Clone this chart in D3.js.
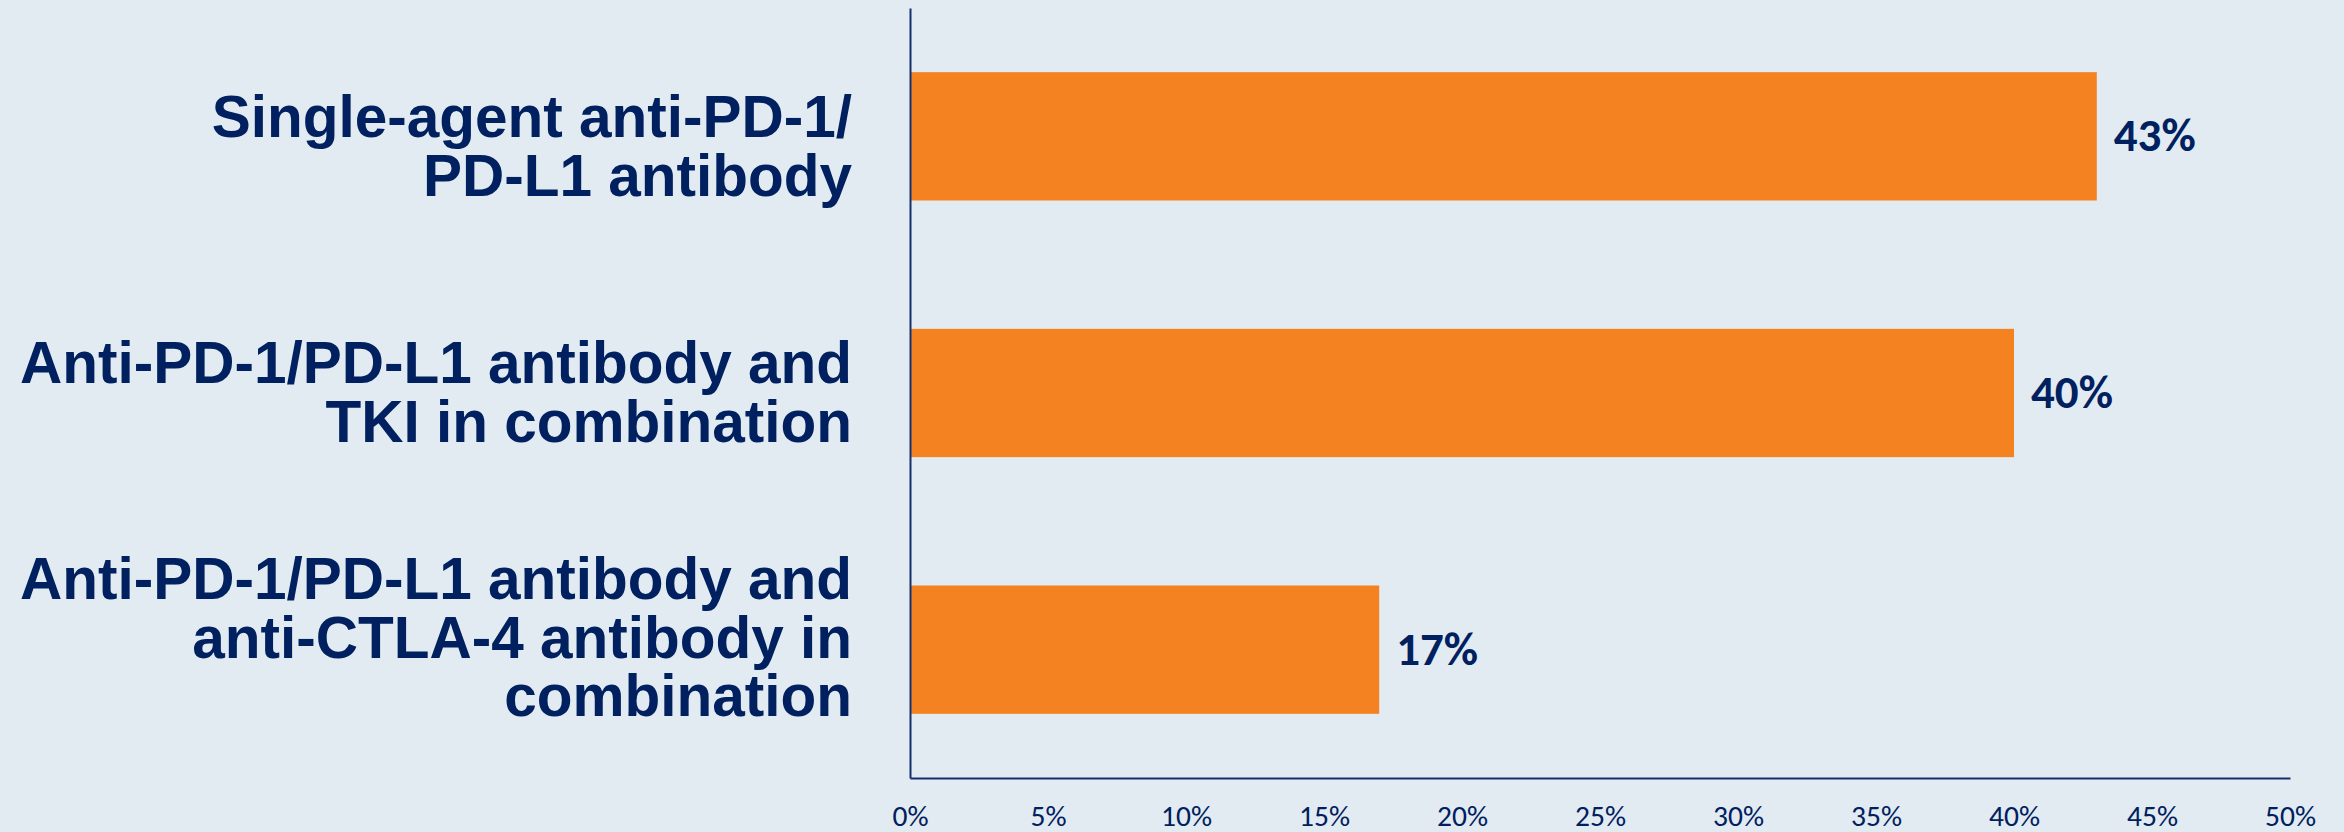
<!DOCTYPE html>
<html>
<head>
<meta charset="utf-8">
<script src="https://cdn.jsdelivr.net/npm/d3@7"></script>
<style>
  html, body { margin: 0; padding: 0; background: #E2EBF1; }
  svg { display: block; }
</style>
</head>
<body>
<svg id="chart" width="2344" height="832"></svg>
<script>
// Categories (line breaks mark where each label wraps)
const categories = [
  "Single-agent anti-PD-1/\nPD-L1 antibody",
  "Anti-PD-1/PD-L1 antibody and\nTKI in combination",
  "Anti-PD-1/PD-L1 antibody and\nanti-CTLA-4 antibody in\ncombination"
];
// Share of regimens, as fractions
const shares = [0.43, 0.40, 0.17];
// X-axis ticks
const xTicks = [0, 0.05, 0.10, 0.15, 0.20, 0.25, 0.30, 0.35, 0.40, 0.45, 0.50];

const W = 2344, H = 832;
const margin = { top: 8, right: 54, bottom: 54, left: 910 };
const navy = "#002060";
const axisColor = "#14306E";
const orange = "#F58220";
const numFont = "Calibri, Carlito, 'Open Sans', sans-serif";

const svg = d3.select("#chart");
svg.append("rect").attr("width", W).attr("height", H).attr("fill", "#E2EBF1");

const x = d3.scaleLinear()
  .domain([0, 0.5])
  .range([margin.left, W - margin.right]);

const y = d3.scaleBand()
  .domain(categories)
  .range([margin.top, H - margin.bottom])
  .paddingInner(0.5)
  .paddingOuter(0.25);

// Bars
svg.append("g")
  .selectAll("rect")
  .data(categories)
  .join("rect")
  .attr("x", x(0))
  .attr("y", d => y(d))
  .attr("width", (d, i) => x(shares[i]) - x(0))
  .attr("height", y.bandwidth())
  .attr("fill", orange);

// Bottom axis
const xAxis = svg.append("g")
  .attr("transform", `translate(0,${H - margin.bottom})`)
  .call(d3.axisBottom(x)
    .tickValues(xTicks)
    .tickFormat(d3.format(".0%"))
    .tickSize(0)
    .tickSizeOuter(0)
    .tickPadding(29));
xAxis.select(".domain").attr("stroke", axisColor).attr("stroke-width", 2);
xAxis.selectAll("text")
  .attr("fill", navy)
  .attr("dy", "0.64em")
  .style("font-family", numFont)
  .style("font-size", "29.5px");

// Left axis line (labels drawn separately so they can wrap)
const yAxis = svg.append("g")
  .attr("transform", `translate(${margin.left},0)`)
  .call(d3.axisLeft(y).tickSize(0).tickSizeOuter(0).tickFormat(""));
yAxis.select(".domain").attr("stroke", axisColor).attr("stroke-width", 2);

// Category labels, right-aligned left of the axis
const labelSize = 58.5, lineStep = 58.5, capH = 42;
const labelNudge = [9, -1.5, -13];
const catLabels = svg.append("g")
  .style("font-family", "Arial, 'Liberation Sans', sans-serif")
  .style("font-weight", "bold")
  .style("font-size", labelSize + "px")
  .attr("fill", navy)
  .attr("text-anchor", "end");

categories.forEach((c, i) => {
  const lines = c.split("\n");
  const center = y(c) + y.bandwidth() / 2;
  const first = center - (lineStep * (lines.length - 1) - capH) / 2 + labelNudge[i];
  const t = catLabels.append("text").attr("x", 852).attr("y", first);
  lines.forEach((ln, j) => {
    t.append("tspan").attr("x", 852).attr("y", first + j * lineStep).text(ln);
  });
});

// Value labels at bar ends
svg.append("g")
  .style("font-family", numFont)
  .style("font-weight", "bold")
  .style("font-size", "47px")
  .attr("fill", navy)
  .selectAll("text")
  .data(categories)
  .join("text")
  .attr("x", (d, i) => x(shares[i]) + 17)
  .attr("y", d => y(d) + y.bandwidth() / 2 + 15)
  .text((d, i) => d3.format(".0%")(shares[i]));
</script>
</body>
</html>
